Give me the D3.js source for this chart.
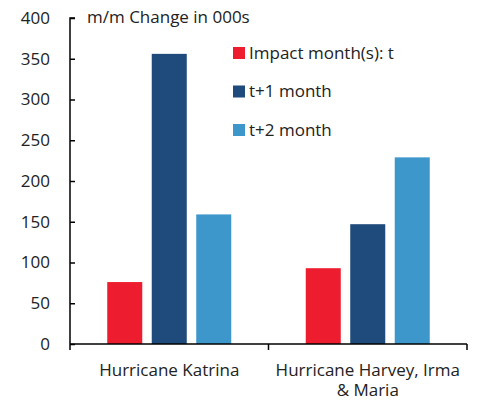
<!DOCTYPE html>
<html>
<head>
<meta charset="utf-8">
<script src="https://cdn.jsdelivr.net/npm/d3@7"></script>
<style>
  body { margin: 0; background: #fff; }
  svg { display: block; font-family: 'Open Sans', sans-serif; }
</style>
</head>
<body>
<script>
const categories = [['Hurricane Katrina'], ['Hurricane Harvey, Irma', '& Maria']]
const seriesNames = ['Impact month(s): t', 't+1 month', 't+2 month']
const seriesColors = ['#ED1C2E', '#1F4A7C', '#3E97CB']
const impactMonth = [76, 93]
const plusOneMonth = [356, 147]
const plusTwoMonth = [159, 229]
const yTicks = [0, 50, 100, 150, 200, 250, 300, 350, 400]
const yTitle = 'm/m Change in 000s'

const width = 477
const height = 400
const margin = { top: 18, right: 10, bottom: 56, left: 70 }

const values = [impactMonth, plusOneMonth, plusTwoMonth]
const data = categories.map((c, i) => ({ key: i, label: c, vals: values.map(v => v[i]) }))

const svg = d3.select('body').append('svg').attr('width', width).attr('height', height)

const x0 = d3.scaleBand().domain(d3.range(categories.length)).range([margin.left, width - margin.right])
const groupW = 124
const pad = (x0.bandwidth() - groupW) / 2
const x1 = d3.scaleBand().domain(d3.range(3)).range([pad, pad + groupW]).paddingInner(0.213)
const y = d3.scaleLinear().domain([0, 400]).range([height - margin.bottom, margin.top])

// bars
svg.append('g')
  .selectAll('g')
  .data(data)
  .join('g')
  .attr('transform', d => `translate(${x0(d.key)},0)`)
  .selectAll('rect')
  .data(d => d.vals.map((v, j) => ({ v, j })))
  .join('rect')
  .attr('x', d => x1(d.j))
  .attr('width', x1.bandwidth())
  .attr('y', d => y(d.v))
  .attr('height', d => y(0) - y(d.v))
  .attr('fill', d => seriesColors[d.j])

// y axis
const yAxis = d3.axisRight(y).tickValues(yTicks).tickSize(5).tickFormat('')
svg.append('g')
  .attr('transform', `translate(${margin.left},0)`)
  .call(yAxis)
  .call(g => g.selectAll('line, path').attr('stroke', '#000').attr('stroke-width', 1.5))
  .call(g => g.select('.domain').attr('d', `M5,${y(400)}H0V${y(0)}`))

svg.append('g')
  .selectAll('text')
  .data(yTicks)
  .join('text')
  .attr('x', 50)
  .attr('y', d => y(d))
  .attr('dy', '0.35em')
  .attr('text-anchor', 'end')
  .attr('font-size', 17)
  .attr('fill', '#222')
  .text(d => d)

// x axis
const edges = [margin.left, ...categories.map((c, i) => x0(i) + x0.bandwidth())]
svg.append('line')
  .attr('x1', margin.left).attr('x2', width - margin.right)
  .attr('y1', y(0)).attr('y2', y(0))
  .attr('stroke', '#000').attr('stroke-width', 1.5)
svg.append('g')
  .selectAll('line')
  .data(edges)
  .join('line')
  .attr('x1', d => d).attr('x2', d => d)
  .attr('y1', y(0)).attr('y2', y(0) + 6)
  .attr('stroke', '#000').attr('stroke-width', 1.5)

svg.append('g')
  .selectAll('text')
  .data(data)
  .join('text')
  .attr('text-anchor', 'middle')
  .attr('font-size', 17)
  .attr('fill', '#222')
  .attr('x', d => x0(d.key) + x0.bandwidth() / 2)
  .attr('y', y(0) + 32)
  .selectAll('tspan')
  .data(d => d.label)
  .join('tspan')
  .attr('x', function () { return this.parentNode.getAttribute('x') })
  .attr('dy', (d, i) => (i === 0 ? 0 : 20))
  .text(d => d)

// axis title
svg.append('text')
  .attr('x', 87)
  .attr('y', 23)
  .attr('font-size', 17)
  .attr('fill', '#222')
  .text(yTitle)

// legend
const legend = svg.append('g')
  .selectAll('g')
  .data(seriesNames)
  .join('g')
  .attr('transform', (d, i) => `translate(233,${53 + i * 38.5})`)
legend.append('rect')
  .attr('x', 0).attr('y', -6)
  .attr('width', 12).attr('height', 12)
  .attr('fill', (d, i) => seriesColors[i])
legend.append('text')
  .attr('x', 16)
  .attr('dy', '0.35em')
  .attr('font-size', 17)
  .attr('fill', '#222')
  .text(d => d)
</script>
</body>
</html>
